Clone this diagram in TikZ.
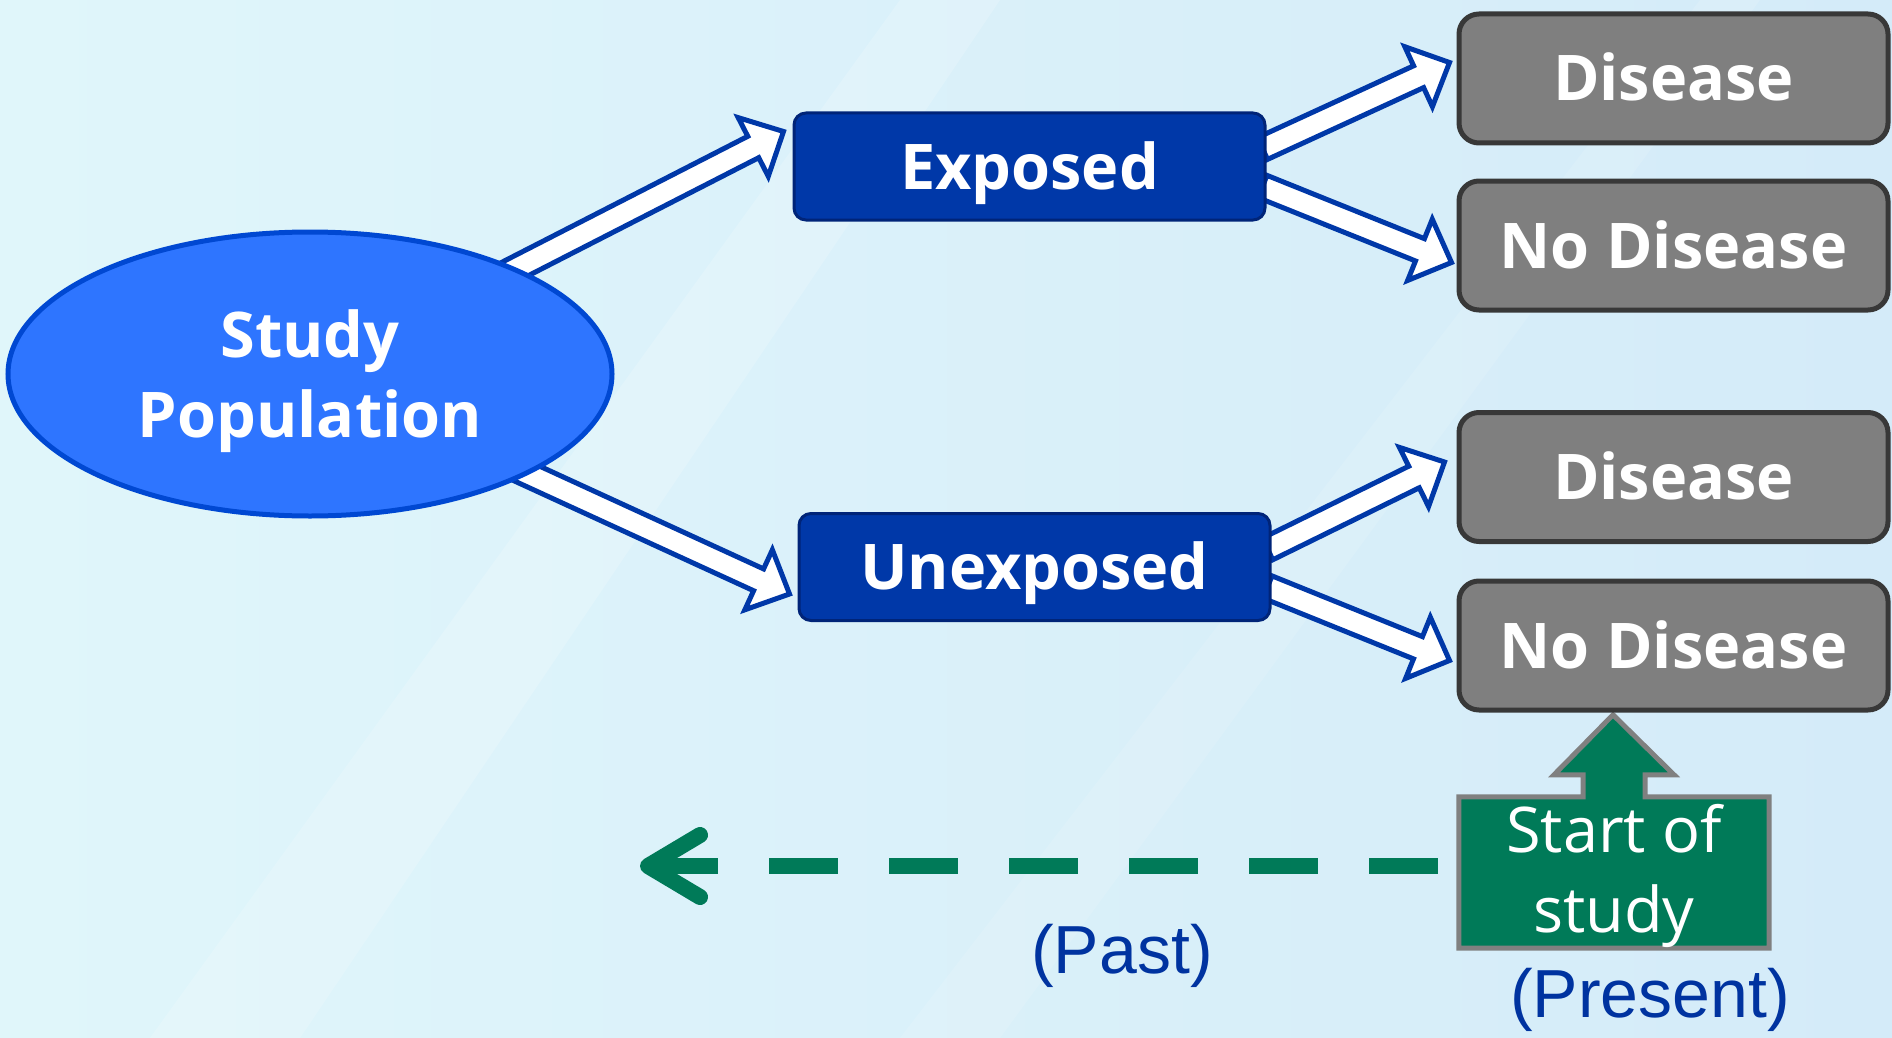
\documentclass[tikz,border=0pt]{standalone}
\usepackage{fontspec}
\setmainfont{Open Sans}
\newfontfamily\labelfont{Liberation Sans}
\usetikzlibrary{shapes.geometric,calc,arrows.meta,backgrounds}

\definecolor{bgleft}{RGB}{224,246,250}
\definecolor{bgright}{RGB}{212,235,249}
\definecolor{popfill}{RGB}{46,117,255}
\definecolor{popline}{RGB}{0,72,210}
\definecolor{expfill}{RGB}{0,56,168}
\definecolor{expline}{RGB}{0,36,120}
\definecolor{outfill}{RGB}{127,127,127}
\definecolor{outline}{RGB}{56,56,56}
\definecolor{studygreen}{RGB}{0,122,88}
\definecolor{calloutline}{RGB}{128,128,128}
\definecolor{timeblue}{RGB}{0,51,160}

\tikzset{
  bigtext/.style={font=\fontsize{63}{80}\selectfont, text=white},
  boxtext/.style={bigtext, font=\fontsize{63}{80}\selectfont\bfseries},
  capsonly/.style={text height=45pt, text depth=0pt},
  exposure/.style={boxtext, capsonly, draw=expline, line width=3pt, fill=expfill,
    rounded corners=12pt, minimum width=471pt, minimum height=107pt},
  outcome/.style={boxtext, capsonly, draw=outline, line width=5pt, fill=outfill,
    rounded corners=20pt, minimum width=429pt, minimum height=129pt},
  blockedge/.style={draw=expfill, line width=5pt, fill=white},
  timelabel/.style={font=\labelfont\fontsize{68}{76}\selectfont, text=timeblue, anchor=base},
}

% hollow block arrow from #1 to #2
\newcommand\shaftw{12pt}
\newcommand\headw{33pt}
\newcommand\headlen{34pt}
\newcommand\blockarrow[2]{%
  \path ($(#2)!\headlen!(#1)$) coordinate (neck);
  \draw[blockedge] ($(#1)!\shaftw!90:(#2)$) -- ($(neck)!\shaftw!90:(#2)$)
    -- ($(neck)!\headw!90:(#2)$) -- (#2) -- ($(neck)!\headw!-90:(#2)$)
    -- ($(neck)!\shaftw!-90:(#2)$) -- ($(#1)!\shaftw!-90:(#2)$) -- cycle;
}

\begin{document}
\begin{tikzpicture}[x=1pt, y=-1pt]
\useasboundingbox (0,0) rectangle (1892,1038);

\node[ellipse, draw=popline, line width=5pt, fill=popfill, minimum width=604pt,
  minimum height=284pt, inner sep=0pt, boxtext, text depth=0pt, align=center] (pop) at (310,374) {Study\\Population};

\node[exposure] (expo) at (1029.5,166.5) {Exposed};
\node[exposure] (unexpo) at (1034.5,567) {Unexposed};

\node[outcome] (dis1) at (1673.5,78.5) {Disease};
\node[outcome] (nodis1) at (1673.5,245.5) {No Disease};
\node[outcome] (dis2) at (1673.5,477) {Disease};
\node[outcome] (nodis2) at (1673.5,645.5) {No Disease};

\node[bigtext, align=center, minimum width=310pt, minimum height=151pt] (start) at (1614,876) {Start of\\study};
\coordinate (past) at (640,866);

\node[timelabel] (pastlbl) at (1122,973) {(Past)};
\node[timelabel] (presentlbl) at (1650,1017) {(Present)};

\begin{pgfonlayer}{background}
\shade[left color=bgleft, right color=bgright] (0,0) rectangle (1892,1038);
\fill[white, opacity=0.18] (150,1038) -- (900,0) -- (1000,0) -- (300,1038) -- cycle;
\fill[white, opacity=0.12] (900,1038) -- (1700,0) -- (1760,0) -- (1000,1038) -- cycle;

\blockarrow{pop.center}{$(expo.west)+(-9,-35)$}
\blockarrow{pop.center}{$(unexpo.west)+(-8,27)$}
\blockarrow{$(expo.east)+(-4,-18)$}{$(dis1.west)+(-7,-16)$}
\blockarrow{$(expo.east)+(-4,20)$}{$(nodis1.west)+(-5,17)$}
\blockarrow{$(unexpo.east)+(-4,-18)$}{$(dis2.west)+(-12,-15)$}
\blockarrow{$(unexpo.east)+(-4,20)$}{$(nodis2.west)+(-7,15)$}

% callout box with its up arrow
\filldraw[fill=studygreen, draw=calloutline, line width=5pt] ($(start.south west)+(0,-3.5)$) -- ($(start.north west)+(0,-3.5)$)
  -- ($(start.north)+(-31,-3.5)$) -- ++(0,-22) -- ++(-29,0) -- ($(start.north)+(-1,-85.5)$)
  -- ($(start.north)+(60,-25.5)$) -- ++(-29,0) -- ($(start.north)+(31,-3.5)$)
  -- ($(start.north east)+(0,-3.5)$) -- ($(start.south east)+(0,-3.5)$) -- cycle;

\draw[studygreen, line width=16pt, dash pattern=on 69pt off 51pt,
  -{Straight Barb[length=52pt, width=62pt, round]}] ($(start.west)+(-21,-10)$) -- (past);
\end{pgfonlayer}
\end{tikzpicture}
\end{document}
